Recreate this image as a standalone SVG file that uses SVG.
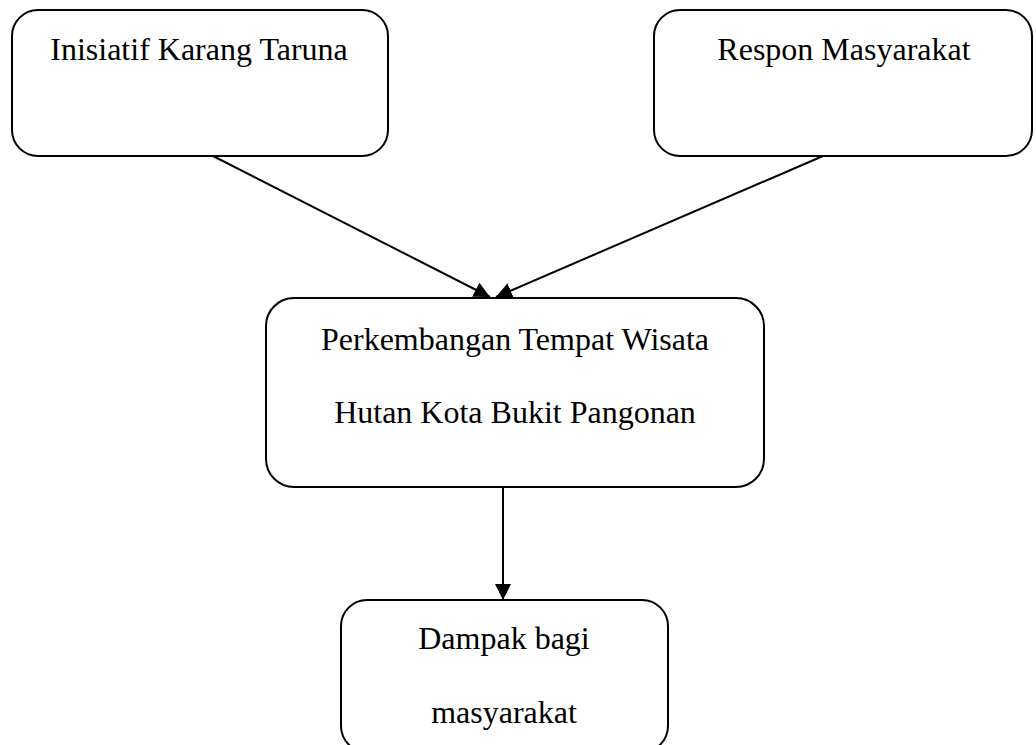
<svg xmlns="http://www.w3.org/2000/svg" width="1036" height="745" viewBox="0 0 1036 745">
<style>
.box{fill:#fff;stroke:#000;stroke-width:2}
.lbl{font-family:"Liberation Serif","Times New Roman",serif;font-size:32px;fill:#000;text-anchor:middle}
.con{stroke:#000;stroke-width:2;fill:none;marker-end:url(#ah)}
</style>
<defs>
<marker id="ah" markerUnits="userSpaceOnUse" markerWidth="18" markerHeight="16" refX="16" refY="8" orient="auto">
<path d="M0,0 L16,8 L0,16 Z" fill="#000"/>
</marker>
</defs>
<rect width="1036" height="745" fill="#fff"/>
<g id="connectors">
<line class="con" x1="213" y1="156" x2="490" y2="297"/>
<line class="con" x1="823" y1="156" x2="496" y2="297"/>
<line class="con" x1="503" y1="487" x2="503" y2="600"/>
</g>
<g id="n1">
<rect class="box" x="12" y="10" width="376" height="146" rx="26"/>
<text class="lbl" x="199" y="60">Inisiatif Karang Taruna</text>
</g>
<g id="n2">
<rect class="box" x="654" y="10" width="378" height="146" rx="26"/>
<text class="lbl" x="844" y="60">Respon Masyarakat</text>
</g>
<g id="n3">
<rect class="box" x="266" y="298" width="498" height="189" rx="28"/>
<text class="lbl" x="515" y="350">Perkembangan Tempat Wisata</text>
<text class="lbl" x="515" y="423">Hutan Kota Bukit Pangonan</text>
</g>
<g id="n4">
<rect class="box" x="341" y="600" width="327" height="152" rx="26"/>
<text class="lbl" x="504" y="649">Dampak bagi</text>
<text class="lbl" x="504" y="723">masyarakat</text>
</g>
</svg>
